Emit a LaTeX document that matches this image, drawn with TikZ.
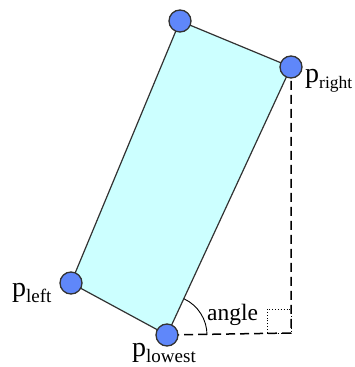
\documentclass[tikz,border=0pt]{standalone}
\usepackage{fontspec}
\setmainfont{Liberation Serif}
\definecolor{boxfill}{RGB}{204,255,255}
\definecolor{dotfill}{RGB}{95,135,250}
\definecolor{edgecol}{RGB}{50,50,50}
\newcommand{\subtxt}[2][19]{\raisebox{-6pt}{\fontsize{#1}{21}\selectfont #2}}
\begin{document}
\begin{tikzpicture}[x=1pt,y=1pt,
  vertex/.style={circle,draw=edgecol,fill=dotfill,line width=1.3pt,minimum size=22pt,inner sep=0pt},
  edge/.style={draw=edgecol,line width=1.2pt},
  guide/.style={draw=black,line width=1.5pt,dash pattern=on 9pt off 5pt},
  plabel/.style={anchor=base west,inner sep=0pt,font=\fontsize{28}{32}\selectfont}]
\useasboundingbox (0,0) rectangle (354,367);
\coordinate (T) at (180,346);
\coordinate (R) at (291,300);
\coordinate (L) at (71,84);
\coordinate (B) at (167,32);
\coordinate (C) at (291,34);
\fill[boxfill] (T) -- (R) -- (B) -- (L) -- cycle;
\draw[edge] (T) -- (R) -- (B) -- (L) -- cycle;
\draw[guide] (R) -- (C) -- (B);
\draw[black,line width=0.9pt,dotted] (267,34) rectangle (291,58);
\draw[black,line width=0.9pt] ([shift={(40,0)}]B) arc[start angle=0,end angle=65,radius=40];
\node[vertex] (vT) at (T) {};
\node[vertex] (vR) at (R) {};
\node[vertex] (vL) at (L) {};
\node[vertex] (vB) at (B) {};
\node[anchor=base west,inner sep=0pt,font=\fontsize{23.5}{27}\selectfont] (ang) at (207,46) {angle};
\node[plabel] (lr) at (305,284) {p\subtxt[17.5]{right}};
\node[plabel] (ll) at (12,70) {p\subtxt{left}};
\node[plabel] (lb) at (132,10) {p\subtxt{lowest}};
\end{tikzpicture}
\end{document}
